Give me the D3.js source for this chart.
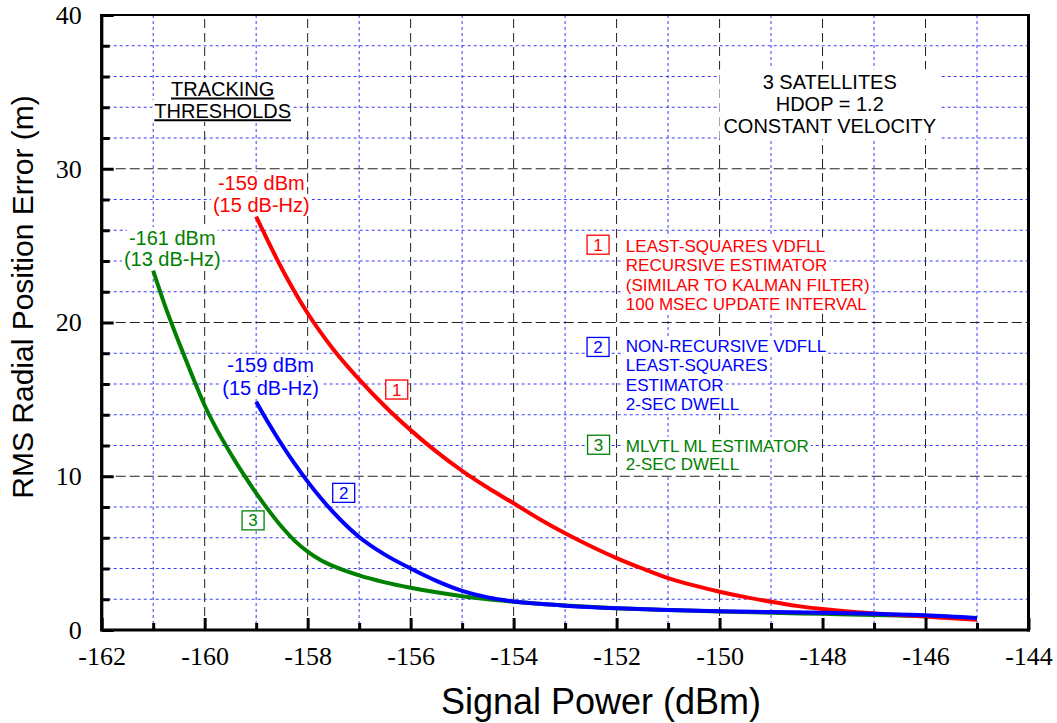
<!DOCTYPE html>
<html>
<head>
<meta charset="utf-8">
<title>RMS radial position error vs signal power</title>
<script src="https://cdn.jsdelivr.net/npm/d3@7"></script>
<style>
  body { margin: 0; background: #fff; }
  svg { display: block; }
  .sans { font-family: "Liberation Sans", Arial, sans-serif; }
  .serif { font-family: "Liberation Serif", "Times New Roman", serif; }
</style>
</head>
<body>
<script>
// ---- data ----
var powerRed = [-159, -158.5, -158, -157.5, -157, -156.5, -156, -155.5, -155, -154.5, -154, -153.5, -153, -152.5, -152, -151.5, -151, -150.5, -150, -149.5, -149, -148.5, -148, -147.5, -147, -146.5, -146, -145.5, -145];
var errRed   = [26.88, 23.5, 20.6, 18.25, 16.3, 14.55, 13.0, 11.6, 10.35, 9.25, 8.24, 7.22, 6.29, 5.45, 4.68, 4.0, 3.38, 2.9, 2.49, 2.14, 1.84, 1.57, 1.36, 1.2, 1.08, 0.97, 0.87, 0.76, 0.66];

var powerBlue = [-159, -158.75, -158.5, -158.25, -158, -157.75, -157.5, -157.25, -157, -156.5, -156, -155.5, -155, -154.5, -154, -153.5, -153, -152, -151, -150, -149, -148, -147, -146, -145];
var errBlue   = [14.85, 13.4, 12.05, 10.8, 9.65, 8.6, 7.65, 6.8, 6.05, 4.9, 4.0, 3.2, 2.55, 2.12, 1.86, 1.7, 1.58, 1.41, 1.3, 1.22, 1.17, 1.12, 1.05, 0.96, 0.78];

var powerGreen = [-161, -160.75, -160.5, -160.25, -160, -159.75, -159.5, -159.25, -159, -158.75, -158.5, -158.25, -158, -157.75, -157.5, -157, -156.5, -156, -155.5, -155, -154.5, -154, -153, -152, -151, -150, -149, -148, -147, -146, -145];
var errGreen   = [23.37, 20.9, 18.7, 16.6, 14.6, 12.95, 11.5, 10.15, 8.9, 7.75, 6.7, 5.8, 5.1, 4.55, 4.15, 3.55, 3.1, 2.75, 2.45, 2.2, 2.0, 1.84, 1.6, 1.42, 1.3, 1.2, 1.12, 1.05, 0.98, 0.9, 0.76];

var xTickLabels = [-162, -160, -158, -156, -154, -152, -150, -148, -146, -144];
var yTickLabels = [0, 10, 20, 30, 40];

var red = "#ff0000", blue = "#0000ff", green = "#008000";

var W = 1057, H = 723;
var svg = d3.select("body").append("svg").attr("width", W).attr("height", H);

var x = d3.scaleLinear().domain([-162, -144]).range([101.7, 1028.5]);
var y = d3.scaleLinear().domain([0, 40]).range([630, 15]);

// ---- grid ----
var grid = svg.append("g");
d3.range(-161, -144).forEach(function(v){
    var major = (v % 2 === 0);
    grid.append("line")
        .attr("x1", x(v)).attr("x2", x(v))
        .attr("y1", y(0)).attr("y2", y(40))
        .attr("stroke", major ? "#222" : "#3a3aff")
        .attr("stroke-width", 1)
        .attr("stroke-dasharray", major ? "9,5" : "3,3");
});
d3.range(2, 40, 2).forEach(function(v){
    var major = (v % 10 === 0);
    grid.append("line")
        .attr("x1", x(-162)).attr("x2", x(-144))
        .attr("y1", y(v)).attr("y2", y(v))
        .attr("stroke", major ? "#222" : "#3a3aff")
        .attr("stroke-width", 1)
        .attr("stroke-dasharray", major ? "10,4" : "3,3");
});

var bgLayer = svg.append("g");
var curveLayer = svg.append("g");
var textLayer = svg.append("g");

// ---- curves ----
var line = d3.line()
    .x(function(d){ return x(d[0]) })
    .y(function(d){ return y(d[1]) })
    .curve(d3.curveMonotoneX);

[[powerGreen, errGreen, green], [powerRed, errRed, red], [powerBlue, errBlue, blue]].forEach(function(s){
    curveLayer.append("path")
        .datum(d3.zip(s[0], s[1]))
        .attr("d", line)
        .attr("fill", "none")
        .attr("stroke", s[2])
        .attr("stroke-width", 4);
});

// ---- axes ----
var axisG = svg.append("g");
axisG.append("g").attr("transform", "translate(0," + y(0) + ")")
    .call(d3.axisBottom(x).tickValues(xTickLabels).tickSize(-12).tickPadding(17)
        .tickFormat(function(d){ return String(d) }));
axisG.append("g").attr("transform", "translate(0," + y(0) + ")")
    .call(d3.axisBottom(x).tickValues(d3.range(-161, -144, 2)).tickSize(-7).tickFormat(""));
axisG.append("g").attr("transform", "translate(" + x(-162) + ",0)")
    .call(d3.axisLeft(y).tickValues(yTickLabels).tickSize(-12).tickPadding(20));
axisG.append("g").attr("transform", "translate(" + x(-162) + ",0)")
    .call(d3.axisLeft(y).tickValues(d3.range(2, 40, 2).filter(function(v){ return v % 10 !== 0 }))
        .tickSize(-8).tickFormat(""));

axisG.selectAll(".domain").remove();
axisG.selectAll(".tick line").attr("stroke", "#000").attr("stroke-width", 3);
axisG.selectAll(".tick text")
    .attr("class", "serif")
    .attr("font-size", 26)
    .attr("fill", "#000");

// frame
svg.append("line").attr("x1", x(-162)).attr("x2", x(-144)).attr("y1", y(40)).attr("y2", y(40))
    .attr("stroke", "#000").attr("stroke-width", 2);
svg.append("line").attr("x1", x(-144)).attr("x2", x(-144)).attr("y1", y(40) - 1).attr("y2", y(0) + 1.5)
    .attr("stroke", "#000").attr("stroke-width", 3);
svg.append("line").attr("x1", x(-162)).attr("x2", x(-144) + 1.5).attr("y1", y(0)).attr("y2", y(0))
    .attr("stroke", "#000").attr("stroke-width", 3);
svg.append("line").attr("x1", x(-162)).attr("x2", x(-162)).attr("y1", y(40) - 1).attr("y2", y(0) + 1.5)
    .attr("stroke", "#000").attr("stroke-width", 3.3);

// axis titles
svg.append("text").attr("class", "sans")
    .attr("x", 601).attr("y", 714)
    .attr("text-anchor", "middle").attr("font-size", 36)
    .text("Signal Power (dBm)");
svg.append("text").attr("class", "sans")
    .attr("transform", "translate(33,297) rotate(-90)")
    .attr("text-anchor", "middle").attr("font-size", 30)
    .text("RMS Radial Position Error (m)");

// ---- annotations ----
function textBlock(o) {
    var boxes = [];
    o.lines.forEach(function(t, i){
        var el = textLayer.append("text").attr("class", "sans")
            .attr("x", x(o.at[0]))
            .attr("y", y(o.at[1]) + i * o.gap)
            .attr("text-anchor", o.anchor || "middle")
            .attr("font-size", o.size)
            .attr("fill", o.color || "#000")
            .text(t);
        var b = el.node().getBBox();
        boxes.push(b);
        if (o.underline) {
            textLayer.append("line")
                .attr("x1", b.x).attr("x2", b.x + b.width)
                .attr("y1", y(o.at[1]) + i * o.gap + 2.5).attr("y2", y(o.at[1]) + i * o.gap + 2.5)
                .attr("stroke", "#000").attr("stroke-width", 2);
        }
    });
    if (o.blockBg) {
        var x0 = d3.min(boxes, function(b){ return b.x }), x1 = d3.max(boxes, function(b){ return b.x + b.width });
        var y0 = d3.min(boxes, function(b){ return b.y }), y1 = d3.max(boxes, function(b){ return b.y + b.height });
        bgLayer.append("rect").attr("x", x0 - 4).attr("y", y0 - 2)
            .attr("width", x1 - x0 + 8).attr("height", y1 - y0 + 4).attr("fill", "#fff");
    } else {
        boxes.forEach(function(b){
            bgLayer.append("rect").attr("x", b.x - 2).attr("y", b.y)
                .attr("width", b.width + 4).attr("height", b.height).attr("fill", "#fff");
        });
    }
}

function numBox(n, cx, cy, color) {
    var g = textLayer.append("g").attr("transform", "translate(" + x(cx) + "," + y(cy) + ")");
    g.append("rect").attr("x", -11).attr("y", -9.5).attr("width", 22).attr("height", 19)
        .attr("fill", "#fff").attr("stroke", color).attr("stroke-width", 1.3);
    g.append("text").attr("class", "sans").attr("text-anchor", "middle")
        .attr("y", 6).attr("font-size", 17).attr("fill", color).text(n);
}

textBlock({lines: ["TRACKING", "THRESHOLDS"], at: [-159.65, 34.73], gap: 21.7, size: 20, underline: true});
textBlock({lines: ["3 SATELLITES", "HDOP = 1.2", "CONSTANT VELOCITY"], at: [-147.86, 35.17], gap: 22, size: 20, blockBg: true});

textBlock({lines: ["-159 dBm", "(15 dB-Hz)"], at: [-158.90, 28.62], gap: 22, size: 20, color: red});
textBlock({lines: ["-161 dBm", "(13 dB-Hz)"], at: [-160.63, 25.04], gap: 21, size: 20, color: green});
textBlock({lines: ["-159 dBm", "(15 dB-Hz)"], at: [-158.72, 16.78], gap: 23, size: 20, color: blue});

textBlock({lines: ["LEAST-SQUARES VDFLL", "RECURSIVE ESTIMATOR", "(SIMILAR TO KALMAN FILTER)", "100 MSEC UPDATE INTERVAL"],
    at: [-151.82, 24.57], gap: 19.2, size: 17, color: red, anchor: "start"});
textBlock({lines: ["NON-RECURSIVE VDFLL", "LEAST-SQUARES", "ESTIMATOR", "2-SEC DWELL"],
    at: [-151.82, 18.06], gap: 19.1, size: 17, color: blue, anchor: "start"});
textBlock({lines: ["MLVTL ML ESTIMATOR", "2-SEC DWELL"],
    at: [-151.82, 11.6], gap: 18.5, size: 17, color: green, anchor: "start"});

numBox("1", -152.36, 25.06, red);
numBox("2", -152.36, 18.41, blue);
numBox("3", -152.35, 12.05, green);

numBox("1", -156.27, 15.64, red);
numBox("2", -157.30, 8.92, blue);
numBox("3", -159.06, 7.13, green);
</script>
</body>
</html>
